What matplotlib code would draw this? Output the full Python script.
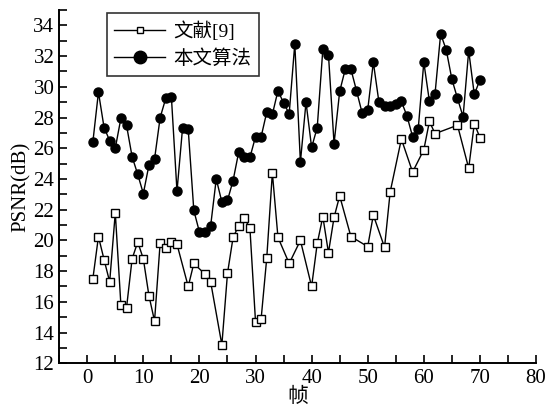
import matplotlib
matplotlib.use("Agg")
import matplotlib.pyplot as plt
from matplotlib.ticker import MultipleLocator

plt.rcParams['font.family'] = ['Liberation Serif', 'Noto Sans CJK SC']

# 文献[9] (只有图中可见的点)
ref_x = [1, 2, 3, 4, 5, 6, 7, 8, 9, 10, 11, 12, 13, 14, 15, 16, 18, 19, 21, 22,
         24, 25, 26, 27, 28, 29, 30, 31, 32, 33, 34, 36, 38, 40, 41, 42, 43, 44,
         45, 47, 50, 51, 53, 54, 56, 58, 60, 61, 62, 66, 68, 69, 70]
ref_y = [17.5, 20.25, 18.75, 17.3, 21.8, 15.8, 15.6, 18.8, 19.9, 18.8, 16.4, 14.75,
         19.85, 19.5, 19.9, 19.75, 17.0, 18.5, 17.8, 17.3, 13.2, 17.85, 20.2, 20.95,
         21.45, 20.8, 14.7, 14.9, 18.85, 24.4, 20.2, 18.5, 20.0, 17.0, 19.8, 21.55,
         19.2, 21.5, 22.9, 20.25, 19.6, 21.65, 19.55, 23.15, 26.6, 24.45, 25.9,
         27.75, 26.95, 27.5, 24.7, 27.6, 26.7]

# 本文算法
our_x = list(range(1, 71))
our_y = [26.4, 29.65, 27.35, 26.5, 26.0, 27.95, 27.5, 25.45, 24.3, 23.05,
         24.9, 25.3, 28.0, 29.25, 29.35, 23.2, 27.35, 27.25, 21.95, 20.55,
         20.55, 20.95, 24.0, 22.5, 22.6, 23.9, 25.75, 25.4, 25.4, 26.75,
         26.75, 28.35, 28.2, 29.75, 28.95, 28.25, 32.8, 25.1, 29.0, 26.05,
         27.35, 32.45, 32.1, 26.3, 29.7, 31.15, 31.15, 29.75, 28.3, 28.5,
         31.6, 29.0, 28.75, 28.75, 28.85, 29.05, 28.1, 26.75, 27.25, 31.6,
         29.05, 29.55, 33.45, 32.4, 30.5, 29.25, 28.05, 32.35, 29.5, 30.45]

fig = plt.figure(figsize=(5.46, 4.12), dpi=100)
ax = fig.add_axes([0.1084, 0.1182, 0.8733, 0.8575])

ax.plot(ref_x, ref_y, color='black', lw=1.0, marker='s', markersize=6.3,
        markerfacecolor='white', markeredgecolor='black', markeredgewidth=1.0,
        label='文献[9]')
ax.plot(our_x, our_y, color='black', lw=1.0, marker='o', markersize=6.5,
        markerfacecolor='black', markeredgecolor='black', label='本文算法')

ax.set_xlim(-5, 80)
ax.set_ylim(12, 35)
ax.xaxis.set_major_locator(MultipleLocator(10))
ax.xaxis.set_minor_locator(MultipleLocator(5))
ax.yaxis.set_major_locator(MultipleLocator(2))
ax.yaxis.set_minor_locator(MultipleLocator(1))
ax.tick_params(which='both', direction='in', width=1.2, length=6, labelsize=15)
ax.tick_params(axis='x', pad=4)

ax.spines['top'].set_visible(False)
ax.spines['right'].set_visible(False)
for s in ['left', 'bottom']:
    ax.spines[s].set_linewidth(1.4)

ax.set_xlabel('帧', fontsize=15, labelpad=0)
ax.set_ylabel('PSNR(dB)', fontsize=15, labelpad=2)

leg = ax.legend(loc='upper left', bbox_to_anchor=(106.7 / 546, 1 - 13.3 / 412),
                bbox_transform=fig.transFigure, borderaxespad=0, fontsize=14,
                frameon=True, fancybox=False, edgecolor='black', handlelength=2.6,
                borderpad=0.4, labelspacing=0.45, handletextpad=0.4)
leg.get_frame().set_linewidth(1.2)
leg.legend_handles[0].set_markersize(4.5)
leg.legend_handles[1].set_markersize(9)

fig.savefig('out.png', dpi=100)
